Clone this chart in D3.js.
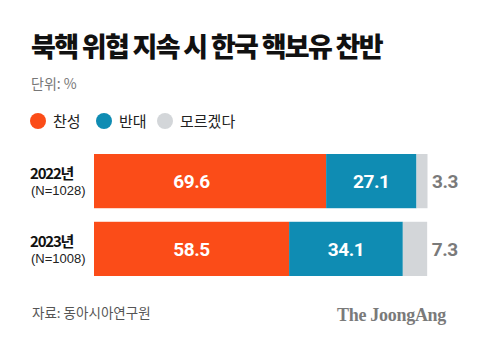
<!DOCTYPE html>
<html>
<head>
<meta charset="utf-8">
<script src="https://cdn.jsdelivr.net/npm/d3@7"></script>
<style>
  body { margin: 0; background: #fff; }
  svg { display: block; font-family: "Noto Sans CJK KR", "Noto Sans", sans-serif; }
</style>
</head>
<body>
<svg id="chart" width="480" height="353"></svg>
<script>
const years = ['2022년', '2023년'];
const samples = ['(N=1028)', '(N=1008)'];
const keys = ['찬성', '반대', '모르겠다'];
const agree = [69.6, 58.5];
const oppose = [27.1, 34.1];
const unsure = [3.3, 7.3];
const colors = ['#fb4c18', '#0f8cb3', '#d3d6d9'];

const svg = d3.select('#chart');
const rows = years.map((y, i) => ({ year: y, n: samples[i], 찬성: agree[i], 반대: oppose[i], 모르겠다: unsure[i] }));

// title + unit
svg.append('text').attr('x', 31).attr('y', 57)
  .attr('font-size', 27).attr('font-weight', 900).attr('fill', '#111')
  .attr('letter-spacing', -1.7)
  .text('북핵 위협 지속 시 한국 핵보유 찬반');
svg.append('text').attr('x', 31).attr('y', 89)
  .attr('font-size', 14).attr('fill', '#777')
  .text('단위: %');

// legend
const legendX = [38, 104, 165];
const lg = svg.selectAll('.lg').data(keys).enter().append('g')
  .attr('transform', (d, i) => `translate(${legendX[i]},121)`);
lg.append('circle').attr('r', 8).attr('fill', (d, i) => colors[i]);
lg.append('text').attr('x', 15).attr('y', 5.5)
  .attr('font-size', 15).attr('fill', '#222').text(d => d);

// bars
const x = d3.scaleLinear().domain([0, 100]).range([94, 427.5]);
const y = d3.scaleBand().domain(years).range([154, 276]).paddingInner(0.2);

const stack = d3.stack().keys(keys)(rows);
const layer = svg.selectAll('.layer').data(stack).enter().append('g')
  .attr('fill', (d, i) => colors[i]);
layer.selectAll('rect').data(d => d).enter().append('rect')
  .attr('x', d => x(d[0]))
  .attr('width', d => x(d[1]) - x(d[0]))
  .attr('y', d => y(d.data.year))
  .attr('height', y.bandwidth());

// value labels (orange ones share one x, centred on the shorter bar)
const agreeX = x(d3.min(agree) / 2);
stack.forEach((s, k) => {
  svg.selectAll('.v' + k).data(s).enter().append('text')
    .attr('x', d => k === 0 ? agreeX : k === 1 ? (x(d[0]) + x(d[1])) / 2 : x(d[1]) + 4.5)
    .attr('y', d => y(d.data.year) + y.bandwidth() / 2 + 7)
    .attr('text-anchor', k < 2 ? 'middle' : 'start')
    .attr('font-family', 'Roboto, "Liberation Sans", sans-serif')
    .attr('font-size', 19).attr('font-weight', 700)
    .attr('letter-spacing', -0.4)
    .attr('fill', k < 2 ? '#fff' : '#7a7a7a')
    .text(d => d.data[s.key].toFixed(1));
});

// row labels
const rl = svg.selectAll('.rl').data(rows).enter().append('g')
  .attr('transform', d => `translate(30,${y(d.year)})`);
rl.append('text').attr('y', 25).attr('font-size', 15).attr('font-weight', 700)
  .attr('fill', '#111').attr('letter-spacing', -1.2).text(d => d.year);
rl.append('text').attr('x', 1).attr('y', 41).attr('font-size', 13)
  .attr('font-family', '"Liberation Sans", Arial, sans-serif')
  .attr('fill', '#222').text(d => d.n);

// footer
svg.append('text').attr('x', 32).attr('y', 318)
  .attr('font-size', 13.5).attr('fill', '#555').text('자료: 동아시아연구원');
svg.append('text').attr('x', 446).attr('y', 321).attr('text-anchor', 'end')
  .attr('font-family', '"Liberation Serif", "DejaVu Serif", serif')
  .attr('font-size', 18).attr('font-weight', 700).attr('fill', '#7a7a7a')
  .attr('letter-spacing', -0.3)
  .text('The JoongAng');
</script>
</body>
</html>
